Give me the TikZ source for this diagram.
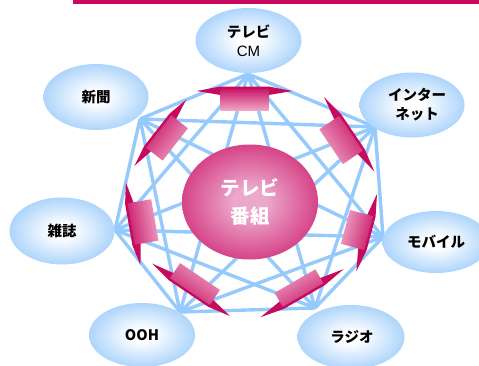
\documentclass[tikz,border=0pt]{standalone}
\usepackage{fontspec}
\newfontfamily\jp{Noto Sans CJK JP}
\newfontfamily\lsans{Liberation Sans}
\usetikzlibrary{shapes.geometric}
\definecolor{lineblue}{RGB}{150,202,252}
\definecolor{ellblue}{RGB}{145,198,250}
\definecolor{mag}{RGB}{200,10,95}
\definecolor{boxdark}{RGB}{200,25,105}
\definecolor{boxlight}{RGB}{240,165,198}
\definecolor{cpink}{RGB}{236,168,204}
\pgfdeclareradialshading{ellsh}{\pgfpoint{0bp}{0bp}}{color(0bp)=(white); color(5bp)=(white); color(32bp)=(ellblue); color(50bp)=(ellblue)}
\pgfdeclareradialshading{centersh}{\pgfpoint{0bp}{0bp}}{color(0bp)=(cpink); color(6bp)=(cpink); color(36bp)=(mag); color(50bp)=(mag)}
\tikzset{
  link/.style={draw=lineblue, line width=3.4pt},
  media/.style={ellipse, shading=ellsh, inner sep=0pt, minimum width=106pt, minimum height=65pt,
     align=center, font=\jp\bfseries\fontsize{14.5}{19}\selectfont, text=black},
  hubell/.style={ellipse, shading=centersh, inner sep=0pt, minimum width=136pt, minimum height=115pt,
     align=center, font=\jp\bfseries\fontsize{19.5}{28}\selectfont, text=white},
  wing/.style={fill=mag},
}
\newcommand\mybrick[5]{% pos, angle, w, h, L
  \begin{scope}[shift={#1}, rotate=#2-90]
    \fill[wing] (-#5, #4/2-2) -- (-#3/2, #4/2+2.5) -- (#3/2, #4/2+2.5) -- (#5, #4/2-2)
       -- (#3/2, #4/2-6) -- (-#3/2, #4/2-6) -- cycle;
    \shade[top color=boxdark, bottom color=boxlight, shading angle=#2-90]
       (-#3/2,-#4/2) rectangle (#3/2,#4/2);
  \end{scope}}
\begin{document}
\begin{tikzpicture}[x=1pt,y=1pt]
\useasboundingbox (0,0) rectangle (479,365);
\fill[white] (0,0) rectangle (479,365);
\fill[mag] (73,361) rectangle (479,365);
% hub points
\coordinate (hT) at (248,291);
\coordinate (hN) at (140,246);
\coordinate (hI) at (375,238);
\coordinate (hZ) at (115,135);
\coordinate (hM) at (383,128);
\coordinate (hO) at (180,53);
\coordinate (hR) at (315,57);
\foreach \a/\b in {hT/hN,hT/hI,hT/hZ,hT/hM,hT/hO,hT/hR,hN/hI,hN/hZ,hN/hM,hN/hO,hN/hR,
  hI/hZ,hI/hM,hI/hO,hI/hR,hZ/hM,hZ/hO,hZ/hR,hM/hO,hM/hR,hO/hR}
  \draw[link] (\a) -- (\b);
% bricks
\mybrick{(341,225)}{34}{42}{24}{45}
\mybrick{(244.5,265.5)}{90}{48}{21}{48}
\mybrick{(167,227)}{142}{41}{21}{42}
\mybrick{(143,143)}{190}{42}{24}{42}
\mybrick{(195,81)}{236}{48}{18}{47}
\mybrick{(299,77)}{300}{47}{16}{48}
\mybrick{(357,135)}{345}{35}{24}{40}
% centre
\node[hubell] (prog) at (250,163) {テレビ\\番組};
% media
\node[media] (tv) at (248.5,324.5) {テレビ\\{\lsans\mdseries\fontsize{15}{19}\selectfont CM}};
\node[media, minimum width=105pt, minimum height=66pt] (news) at (96,268) {新聞};
\node[media, minimum width=105pt] (net) at (412,260) {\hspace*{10pt}インター\\\hspace*{10pt}ネット};
\node[media, minimum width=105pt, minimum height=67pt] (mag) at (62,134) {雑誌};
\node[media, minimum width=107pt, minimum height=62pt] (mob) at (436,123) {モバイル};
\node[media, minimum height=64pt] (ooh) at (142,30) {OOH};
\node[media, minimum width=107pt, minimum height=64pt] (radio) at (351,28) {\hspace*{2pt}ラジオ};
\end{tikzpicture}
\end{document}
